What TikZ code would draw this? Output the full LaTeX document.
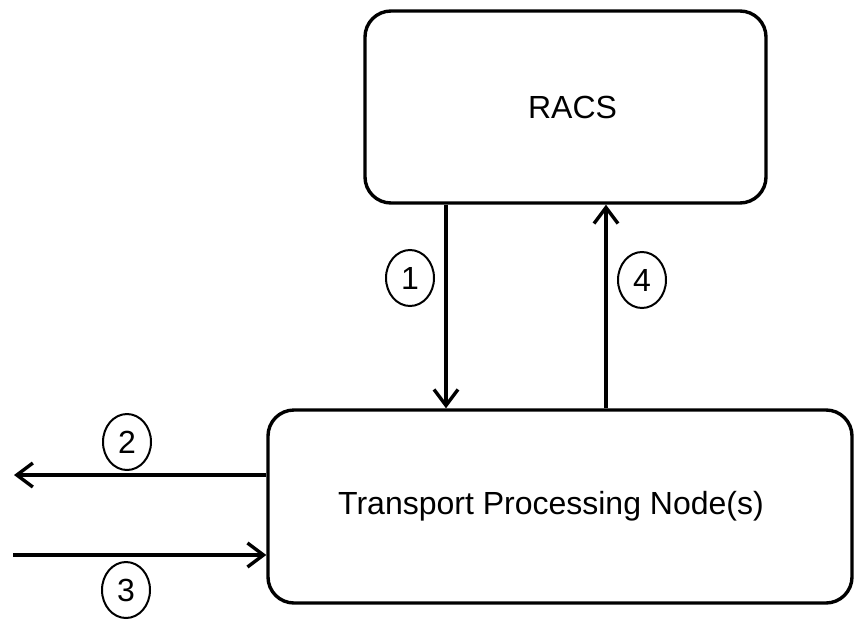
\documentclass[tikz,border=0pt]{standalone}
\usepackage{fontspec}
\setmainfont{Liberation Sans}
\usetikzlibrary{arrows.meta,shapes.geometric}

\begin{document}
\begin{tikzpicture}[x=1pt,y=-1pt,
  box/.style={draw, line width=3.4pt, rounded corners=26pt, inner sep=0pt,
    font=\fontsize{32}{36}\selectfont},
  tag/.style={draw, ellipse, line width=2pt, inner sep=0pt,
    minimum width=48pt, minimum height=56pt, font=\fontsize{32}{36}\selectfont},
  flow/.style={line width=3.4pt, -{Straight Barb[length=16pt,width=24pt]}}
]
\useasboundingbox (0,0) rectangle (854,619);

% the two processing blocks
\node[box, minimum width=401pt, minimum height=192pt] (racs) at (565.5,107)
  {\hspace*{14pt}RACS};
\node[box, minimum width=584pt, minimum height=193pt] (tpn) at (560,506.5)
  {\raisebox{-3pt}{Transport Processing Node(s)}\hspace*{18pt}};

% free ends and columns of the message flows
\coordinate (c1) at (446,0);
\coordinate (c4) at (606,0);
\coordinate (out2) at (14,475);
\coordinate (in3) at (13,555);

% message flows
\draw[flow] (c1 |- racs.south) -- (c1 |- tpn.north);
\draw[flow] (c4 |- tpn.north) -- (c4 |- racs.south);
\draw[flow] (tpn.west |- out2) -- (out2);
\draw[flow] (in3) -- (tpn.west |- in3);

% step numbers
\node[tag] (n1) at (410,278) {1};
\node[tag] (n2) at (127,442) {2};
\node[tag] (n3) at (126,590) {3};
\node[tag] (n4) at (642,280) {4};
\end{tikzpicture}
\end{document}
